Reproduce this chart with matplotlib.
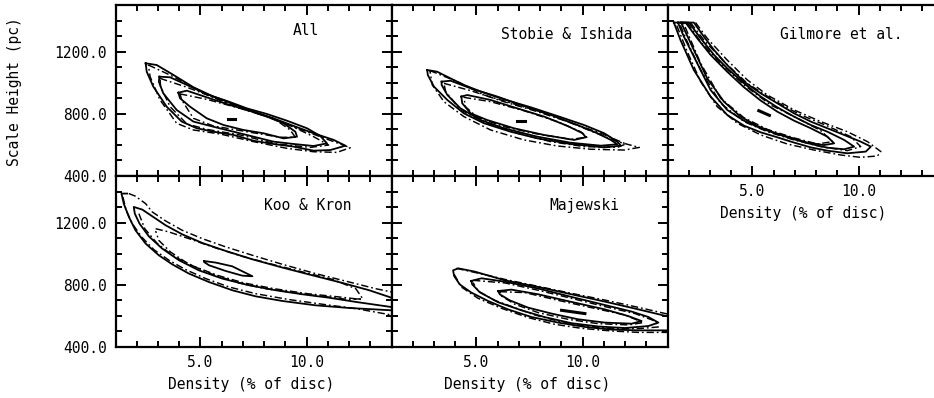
import matplotlib
matplotlib.use('Agg')
import matplotlib.pyplot as plt
from matplotlib.ticker import MultipleLocator, FormatStrFormatter

plt.rcParams['font.family'] = ['DejaVu Sans Mono', 'DejaVu Sans']

# ---- contour outlines: (density %, scale height pc) ----
# All
all_s3 = [(2.42, 1125), (2.94, 1114), (3.73, 1050), (4.67, 971), (5.61, 911), (6.56, 863), (7.50, 814),
          (8.44, 771), (9.39, 722), (10.33, 675), (11.28, 632), (11.83, 595), (11.12, 567), (10.33, 563),
          (9.39, 589), (8.44, 606), (7.50, 627), (6.56, 664), (5.61, 685), (4.83, 707), (4.12, 750),
          (3.41, 846), (2.78, 975), (2.47, 1071), (2.42, 1125)]
all_s2 = [(3.07, 1039), (3.57, 1035), (4.36, 986), (5.30, 926), (6.24, 883), (7.19, 835), (8.13, 799),
          (9.07, 756), (10.02, 707), (10.65, 657), (10.96, 610), (10.33, 593), (9.39, 606), (8.44, 621),
          (7.50, 653), (6.56, 685), (5.61, 717), (4.67, 750), (3.88, 825), (3.25, 932), (3.04, 1007),
          (3.07, 1039)]
all_s1 = [(3.96, 936), (4.36, 949), (5.30, 906), (6.24, 863), (7.19, 825), (8.13, 782), (8.92, 739),
          (9.47, 685), (9.55, 653), (8.92, 642), (7.97, 675), (7.03, 696), (6.09, 728), (5.30, 771),
          (4.51, 846), (4.04, 900), (3.96, 936)]
all_d3 = [(2.55, 1114), (3.73, 1039), (4.98, 943), (6.56, 850), (8.13, 782), (9.70, 700), (11.28, 621),
          (12.06, 582), (11.43, 552), (10.33, 556), (9.07, 578), (7.50, 621), (5.93, 670), (4.67, 696),
          (3.88, 739), (3.10, 889), (2.63, 1039), (2.55, 1114)]
all_d2 = [(3.10, 1028), (4.36, 971), (5.93, 889), (7.50, 814), (9.07, 735), (10.33, 653), (11.04, 599),
          (10.18, 584), (8.60, 606), (6.87, 664), (5.30, 700), (4.36, 735), (3.57, 846), (3.12, 975),
          (3.10, 1028)]
all_d1 = [(4.04, 928), (5.30, 893), (6.87, 835), (8.44, 771), (9.23, 696), (9.47, 649), (8.76, 649),
          (7.19, 685), (5.61, 722), (4.67, 771), (4.12, 889), (4.04, 928)]
all_best = [(6.29, 767), (6.61, 767)]

# Stobie & Ishida
si_s3 = [(2.68, 1082), (3.15, 1071), (3.78, 1028), (4.41, 986), (5.20, 943), (6.30, 893), (7.56, 842),
         (8.81, 786), (10.07, 728), (11.02, 675), (11.64, 621), (11.80, 595), (11.02, 584), (9.44, 606),
         (7.87, 642), (6.61, 685), (5.36, 739), (4.41, 803), (3.63, 889), (3.00, 975), (2.71, 1050),
         (2.68, 1082)]
si_s2 = [(3.36, 1007), (3.78, 1013), (4.73, 964), (5.98, 911), (7.24, 850), (8.50, 793), (9.76, 728),
         (10.70, 675), (11.33, 632), (11.64, 604), (10.86, 595), (9.44, 614), (7.87, 653), (6.30, 707),
         (5.20, 760), (4.25, 835), (3.63, 921), (3.36, 986), (3.36, 1007)]
si_s1 = [(4.29, 911), (4.57, 921), (5.67, 889), (6.93, 835), (8.19, 782), (9.29, 722), (10.0, 675),
         (10.15, 649), (9.60, 632), (8.19, 664), (6.77, 707), (5.51, 760), (4.73, 803), (4.33, 868),
         (4.29, 911)]
si_d3 = [(2.81, 1078), (4.10, 1007), (5.36, 921), (6.93, 857), (8.50, 793), (10.07, 707), (11.64, 621),
         (12.67, 584), (11.96, 567), (10.39, 572), (8.81, 593), (7.24, 632), (5.67, 696), (4.41, 782),
         (3.47, 878), (2.92, 986), (2.81, 1078)]
si_d2 = [(3.47, 996), (4.73, 949), (6.30, 878), (7.87, 814), (9.44, 743), (10.86, 675), (12.04, 606),
         (11.64, 584), (10.07, 589), (8.50, 621), (6.93, 675), (5.51, 739), (4.25, 825), (3.55, 943),
         (3.47, 996)]
si_d1 = [(4.41, 906), (5.67, 878), (7.24, 820), (8.81, 750), (9.91, 685), (10.20, 649), (9.44, 636),
         (7.87, 670), (6.30, 717), (5.04, 778), (4.48, 846), (4.41, 906)]
si_best = [(6.93, 756), (7.27, 756)]

# Gilmore et al.
gi_s3 = [(1.30, 1387), (2.24, 1387), (2.71, 1297), (3.19, 1211), (3.81, 1114), (4.60, 1007), (5.39, 932),
         (6.17, 868), (6.96, 803), (7.75, 750), (8.53, 707), (9.32, 664), (10.10, 621), (10.58, 589),
         (10.34, 557), (9.47, 546), (8.53, 563), (7.75, 584), (6.96, 615), (6.17, 649), (5.39, 681),
         (4.60, 724), (3.81, 793), (3.03, 911), (2.24, 1082), (1.61, 1275), (1.30, 1387)]
gi_s2 = [(1.49, 1387), (2.01, 1387), (2.56, 1286), (3.19, 1179), (3.81, 1093), (4.60, 996), (5.39, 911),
         (6.17, 842), (6.96, 782), (7.75, 728), (8.53, 685), (9.32, 632), (9.79, 589), (9.32, 572),
         (8.53, 582), (7.75, 606), (6.96, 636), (6.17, 670), (5.39, 707), (4.60, 756), (3.81, 825),
         (3.03, 953), (2.40, 1125), (1.77, 1297), (1.49, 1387)]
gi_s1 = [(1.64, 1387), (1.85, 1387), (2.40, 1286), (3.03, 1179), (3.81, 1071), (4.60, 971), (5.39, 885),
         (6.17, 814), (6.96, 756), (7.75, 707), (8.53, 653), (8.85, 610), (8.37, 599), (7.59, 615),
         (6.80, 647), (6.02, 679), (5.23, 722), (4.44, 782), (3.66, 878), (2.87, 1028), (2.24, 1211),
         (1.64, 1387)]
gi_d3 = [(2.32, 1387), (2.87, 1286), (3.81, 1146), (4.76, 1018), (5.70, 921), (6.96, 825), (8.22, 750),
         (9.47, 685), (10.42, 621), (11.05, 557), (10.89, 529), (10.10, 520), (9.16, 535), (7.90, 567),
         (6.64, 606), (5.39, 664), (4.29, 739), (3.34, 846), (2.56, 1007), (1.93, 1200), (1.38, 1387)]
gi_d2 = [(2.08, 1387), (2.71, 1275), (3.66, 1136), (4.76, 996), (6.02, 885), (7.27, 793), (8.53, 722),
         (9.63, 653), (10.10, 589), (9.47, 563), (8.22, 589), (6.96, 632), (5.70, 685), (4.60, 750),
         (3.50, 868), (2.56, 1082), (1.93, 1264), (1.55, 1387)]
gi_d1 = [(1.93, 1387), (2.56, 1264), (3.50, 1125), (4.60, 986), (5.86, 857), (7.12, 771), (8.22, 692),
         (8.77, 621), (8.06, 606), (6.96, 645), (5.70, 700), (4.60, 775), (3.50, 900), (2.56, 1125),
         (1.74, 1387)]
gi_best = [(5.30, 820), (5.80, 790)]

# Koo & Kron
kk_s_outer = [(1.55, 1387), (1.28, 1387), (1.39, 1322), (1.63, 1237), (1.94, 1151), (2.42, 1065),
              (3.04, 990), (3.67, 932), (4.46, 872), (5.40, 818), (6.50, 765), (7.60, 726), (8.86, 696),
              (10.43, 668), (12.01, 651), (14.0, 636)]
kk_s_mid = [(14.0, 717), (12.95, 765), (11.69, 812), (10.28, 861), (8.86, 911), (7.45, 964), (6.19, 1018),
            (5.09, 1069), (4.14, 1125), (3.36, 1183), (2.73, 1241), (2.26, 1284), (1.86, 1301), (1.91, 1258),
            (2.13, 1194), (2.57, 1112), (3.20, 1033), (3.99, 958), (4.93, 893), (6.03, 840), (7.29, 797),
            (8.55, 765), (9.81, 739), (11.06, 717), (12.32, 690), (14.0, 657)]
kk_s_core = [(5.17, 953), (5.72, 943), (6.50, 919), (7.45, 855), (6.97, 859), (6.19, 889), (5.40, 926),
             (5.17, 947), (5.17, 953)]
kk_d_upper = [(1.63, 1387), (1.94, 1370), (2.42, 1322), (2.73, 1269), (3.36, 1211), (4.14, 1151),
              (5.09, 1097), (6.19, 1044), (7.45, 990), (8.86, 932), (10.43, 872), (12.01, 818), (13.26, 775),
              (14.0, 754)]
kk_d_lower = [(1.35, 1365), (1.50, 1279), (1.79, 1194), (2.23, 1108), (2.81, 1026), (3.52, 958), (4.30, 898),
              (5.25, 840), (6.35, 786), (7.60, 743), (9.18, 705), (10.75, 675), (12.32, 647), (14.0, 606)]
kk_d_inner = [(2.89, 1161), (3.52, 1140), (4.46, 1097), (5.72, 1037), (6.97, 983), (8.39, 932), (9.81, 883),
              (11.22, 835), (12.32, 775), (12.64, 711), (12.01, 705), (10.75, 726), (9.49, 747), (8.08, 775),
              (6.82, 812), (5.56, 868), (4.46, 932), (3.59, 1011), (3.04, 1086), (2.89, 1146)]
kk_d_mid = [(2.10, 1258), (2.38, 1161), (2.97, 1065), (3.75, 983), (4.69, 919), (5.80, 861), (7.05, 812),
            (8.47, 775), (10.04, 743), (11.53, 722), (12.64, 705)]

# Majewski
mj_s3 = [(14.0, 597), (12.63, 642), (11.05, 692), (9.48, 739), (7.91, 786), (6.34, 829), (4.92, 885),
         (4.14, 906), (3.90, 893), (3.95, 857), (4.21, 803), (4.76, 750), (5.55, 696), (6.49, 642),
         (7.59, 593), (8.85, 557), (10.11, 529), (11.37, 512), (12.63, 507), (14.0, 507)]
mj_s2 = [(4.76, 825), (5.24, 842), (6.34, 820), (7.91, 776), (9.48, 722), (11.05, 670), (12.31, 628),
         (13.10, 593), (13.57, 557), (13.10, 535), (12.00, 522), (10.74, 532), (9.48, 553), (8.22, 592),
         (7.12, 636), (6.02, 688), (5.16, 752), (4.80, 803), (4.76, 825)]
mj_s1 = [(6.02, 760), (6.65, 769), (7.91, 739), (9.48, 690), (11.05, 642), (12.15, 599), (12.78, 567),
         (12.31, 550), (11.05, 557), (9.80, 578), (8.54, 615), (7.44, 653), (6.57, 700), (6.10, 739),
         (6.02, 760)]
mj_d3_upper = [(4.06, 906), (4.92, 880), (6.34, 835), (7.91, 790), (9.48, 745), (11.05, 702), (12.63, 655),
               (14.0, 612)]
mj_d3_lower = [(3.95, 868), (4.29, 786), (5.08, 713), (6.18, 649), (7.44, 589), (8.69, 546), (9.95, 520),
               (11.37, 503), (12.63, 494), (14.0, 494)]
mj_d2 = [(4.84, 829), (6.34, 812), (7.91, 765), (9.48, 713), (11.05, 660), (12.47, 615), (13.41, 567),
         (13.57, 529), (12.63, 518), (11.37, 518), (10.11, 535), (8.85, 567), (7.75, 606), (6.81, 653),
         (5.86, 700), (5.08, 760), (4.84, 814)]
mj_d1 = [(6.10, 756), (7.28, 750), (8.85, 700), (10.42, 653), (12.0, 606), (12.86, 557), (12.15, 542),
         (10.74, 550), (9.32, 578), (7.91, 621), (6.81, 675), (6.18, 728), (6.10, 756)]
mj_best = [(9.01, 636), (10.11, 615)]

titles = ["All", "Stobie & Ishida", "Gilmore et al.", "Koo & Kron", "Majewski"]
x_label = "Density (% of disc)"
y_label = "Scale Height (pc)"

# ---- layout (pixels of a 934 x 398 canvas) ----
W, H = 934, 398
PW, PH = 276, 171
fig = plt.figure(figsize=(W / 100, H / 100), dpi=100)
fig.patch.set_facecolor('white')

panels = [
    # left px, top px, solid, dashed, best, title pos, y labels, x labels
    (115.5, 5, [all_s3, all_s2, all_s1], [all_d3, all_d2, all_d1], all_best, (0.69, 0.85), True, False),
    (391.5, 5, [si_s3, si_s2, si_s1], [si_d3, si_d2, si_d1], si_best, (0.635, 0.83), False, False),
    (667.5, 5, [gi_s3, gi_s2, gi_s1], [gi_d3, gi_d2, gi_d1], gi_best, (0.63, 0.83), False, True),
    (115.5, 176, [kk_s_outer, kk_s_mid, kk_s_core], [kk_d_upper, kk_d_lower, kk_d_inner, kk_d_mid], None,
     (0.695, 0.83), True, True),
    (391.5, 176, [mj_s3, mj_s2, mj_s1], [mj_d3_upper, mj_d3_lower, mj_d2, mj_d1], mj_best,
     (0.70, 0.83), False, True),
]

dash_dot = (0, (5, 2, 1.2, 2))

for title, (left, top, solid, dashed, best, tpos, ylab, xlab) in zip(titles, panels):
    ax = fig.add_axes([left / W, 1 - (top + PH) / H, PW / W, PH / H])
    for pts in solid:
        xs, ys = zip(*pts)
        ax.plot(xs, ys, color='black', lw=1.3, solid_joinstyle='round')
    for pts in dashed:
        xs, ys = zip(*pts)
        ax.plot(xs, ys, color='black', lw=1.05, linestyle=dash_dot)
    if best is not None:
        xs, ys = zip(*best)
        ax.plot(xs, ys, color='black', lw=2.2)

    ax.set_xlim(1, 14)
    ax.set_ylim(400, 1500)
    ax.xaxis.set_major_locator(MultipleLocator(5))
    ax.xaxis.set_minor_locator(MultipleLocator(1))
    ax.yaxis.set_major_locator(MultipleLocator(400))
    ax.yaxis.set_minor_locator(MultipleLocator(100))
    ax.xaxis.set_major_formatter(FormatStrFormatter('%.1f'))
    ax.yaxis.set_major_formatter(FormatStrFormatter('%.1f'))
    ax.tick_params(which='both', direction='in', top=True, right=True, width=1.4,
                   labelsize=10.5, labelleft=ylab, labelbottom=xlab)
    ax.tick_params(which='major', length=7.5)
    ax.tick_params(which='minor', length=4)
    ax.tick_params(axis='y', pad=6)
    ax.tick_params(axis='x', pad=6)
    for sp in ax.spines.values():
        sp.set_linewidth(1.6)

    ax.text(tpos[0], tpos[1], title, transform=ax.transAxes, ha='center', va='center', fontsize=10.5)
    if xlab:
        ax.text(0.49, -0.22, x_label, transform=ax.transAxes, ha='center', va='center', fontsize=10.5)

fig.text(15 / W, 1 - 92 / H, y_label, rotation=90, ha='center', va='center', fontsize=10.5)

fig.savefig('out.png', dpi=100)
